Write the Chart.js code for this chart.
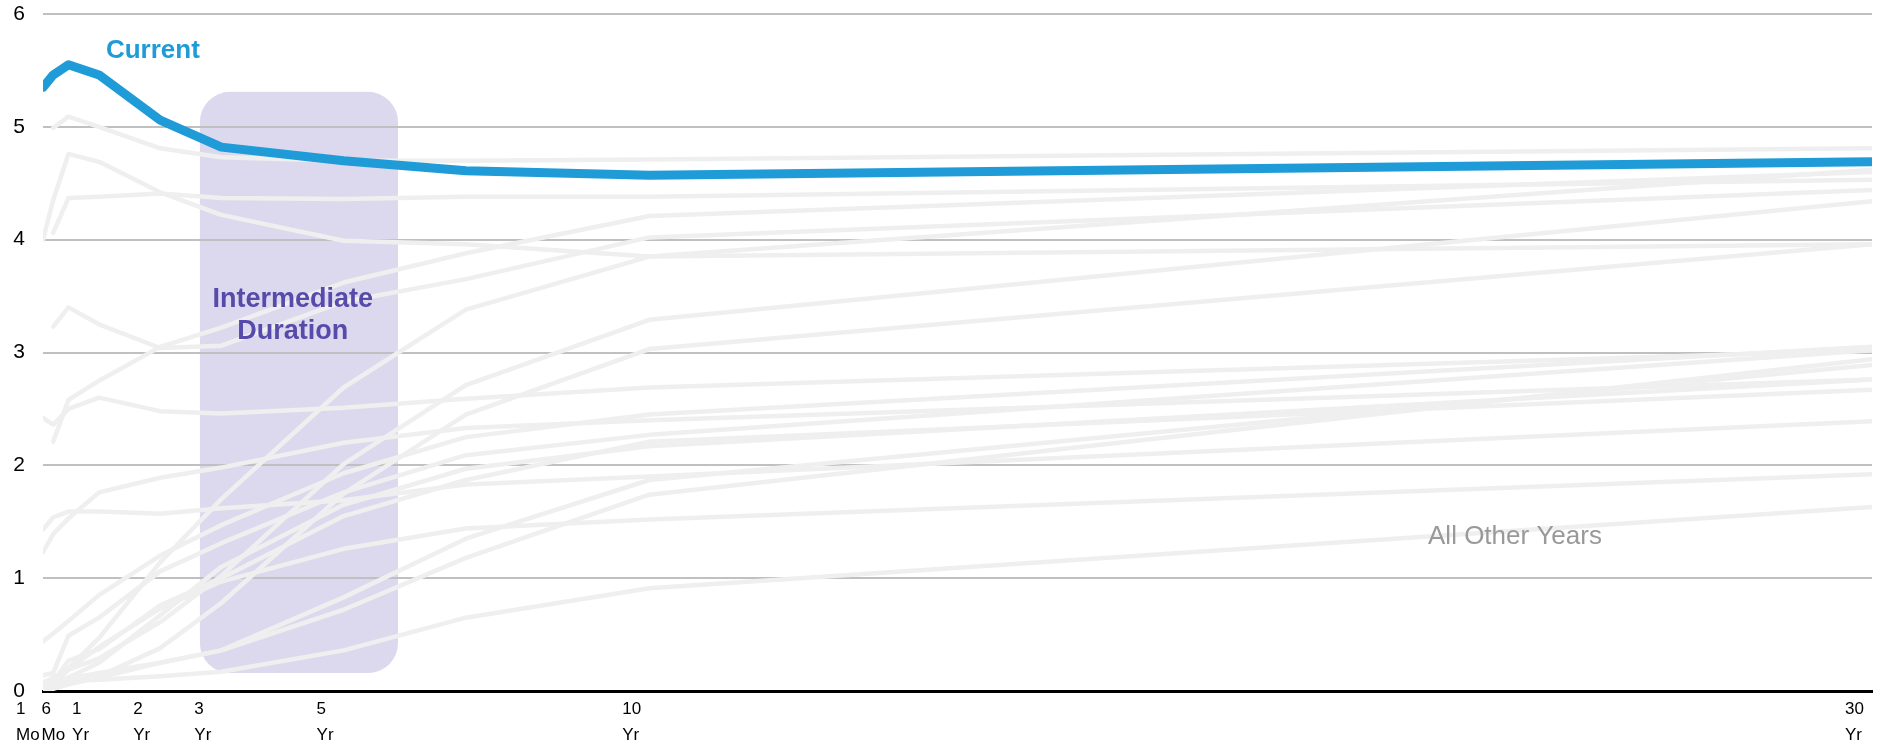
<!DOCTYPE html>
<html>
<head>
<meta charset="utf-8">
<script src="https://cdn.jsdelivr.net/npm/chart.js@4.4.1/dist/chart.umd.min.js"></script>
<style>
  html, body { margin: 0; padding: 0; background: #fff; }
  #wrap { width: 1877px; height: 745px; position: relative; }
</style>
</head>
<body>
<div id="wrap"><canvas id="curves"></canvas></div>
<script>
// Maturities in years: 1 Mo, 3 Mo, 6 Mo, 1, 2, 3, 5, 7, 10, 30 Yr
const maturities = [1/12, 0.25, 0.5, 1, 2, 3, 5, 7, 10, 30];

// Axis ticks
const tickValues = [1/12, 0.5, 1, 2, 3, 5, 10, 30];
const tickLabels = [['1', 'Mo'], ['6', 'Mo'], ['1', 'Yr'], ['2', 'Yr'], ['3', 'Yr'], ['5', 'Yr'], ['10', 'Yr'], ['30', 'Yr']];
const yTicks = [0, 1, 2, 3, 4, 5, 6];

// Current curve (%)
const current = [5.35, 5.46, 5.55, 5.46, 5.06, 4.82, 4.70, 4.61, 4.57, 4.69];

// Year-end curves (%); null where no 1 Mo point is shown
const curve2004 = [null, 2.21, 2.58, 2.75, 3.05, 3.22, 3.62, 3.88, 4.21, 4.60];
const curve2005 = [null, 4.06, 4.37, 4.38, 4.41, 4.37, 4.36, 4.38, 4.38, 4.53];
const curve2006 = [null, 4.99, 5.09, 5.00, 4.81, 4.73, 4.70, 4.70, 4.71, 4.81];
const curve2007 = [null, 3.23, 3.40, 3.25, 3.04, 3.06, 3.45, 3.65, 4.02, 4.44];
const curve2008 = [0.05, 0.08, 0.27, 0.37, 0.76, 1.00, 1.55, 1.87, 2.21, 2.67];
const curve2009 = [0.02, 0.06, 0.20, 0.47, 1.14, 1.70, 2.69, 3.38, 3.85, 4.62];
const curve2010 = [0.07, 0.12, 0.19, 0.29, 0.61, 1.02, 2.01, 2.71, 3.29, 4.34];
const curve2011 = [0.02, 0.02, 0.06, 0.12, 0.25, 0.36, 0.83, 1.35, 1.87, 2.89];
const curve2012 = [0.02, 0.05, 0.11, 0.16, 0.25, 0.36, 0.72, 1.18, 1.74, 2.94];
const curve2013 = [0.01, 0.07, 0.10, 0.13, 0.38, 0.78, 1.75, 2.45, 3.03, 3.96];
const curve2014 = [0.03, 0.04, 0.12, 0.25, 0.67, 1.10, 1.65, 1.97, 2.17, 2.76];
const curve2015 = [0.14, 0.16, 0.49, 0.65, 1.06, 1.31, 1.76, 2.09, 2.27, 3.02];
const curve2016 = [0.44, 0.51, 0.62, 0.85, 1.20, 1.47, 1.93, 2.25, 2.45, 3.05];
const curve2017 = [1.23, 1.39, 1.53, 1.76, 1.89, 1.98, 2.20, 2.33, 2.40, 2.76];
const curve2018 = [2.42, 2.36, 2.50, 2.60, 2.48, 2.46, 2.51, 2.59, 2.69, 3.02];
const curve2019 = [1.43, 1.54, 1.59, 1.59, 1.57, 1.62, 1.69, 1.83, 1.90, 2.39];
const curve2020 = [0.08, 0.09, 0.09, 0.10, 0.13, 0.17, 0.36, 0.65, 0.91, 1.63];
const curve2021 = [0.05, 0.05, 0.19, 0.39, 0.73, 0.97, 1.26, 1.44, 1.52, 1.92];
const curve2022 = [4.00, 4.35, 4.76, 4.69, 4.42, 4.22, 3.99, 3.96, 3.85, 3.96];

const otherCurves = [curve2004, curve2005, curve2006, curve2007, curve2008, curve2009,
  curve2010, curve2011, curve2012, curve2013, curve2014, curve2015, curve2016,
  curve2017, curve2018, curve2019, curve2020, curve2021, curve2022];

// Highlighted intermediate-duration maturity range (years) and its vertical extent (%)
const intermediateBand = { from: 2.65, to: 5.89, bottom: 0.16, top: 5.31 };

const toPoints = vals => maturities.map((m, i) => ({ x: m, y: vals[i] }));

const datasets = [{
  label: 'Current',
  data: toPoints(current),
  borderColor: '#1f9bd7',
  borderWidth: 9,
  borderJoinStyle: 'round',
  borderCapStyle: 'round',
  pointRadius: 0,
  tension: 0
}].concat(otherCurves.map(c => ({
  label: 'Other',
  data: toPoints(c),
  borderColor: '#efefef',
  borderWidth: 4.5,
  borderJoinStyle: 'round',
  borderCapStyle: 'round',
  pointRadius: 0,
  tension: 0
})));

const decorations = {
  id: 'decorations',
  beforeDraw(chart) {
    const { ctx, scales: { x, y } } = chart;
    ctx.save();
    ctx.fillStyle = '#ffffff';
    ctx.fillRect(0, 0, chart.width, chart.height);
    const l = x.getPixelForValue(intermediateBand.from);
    const r = x.getPixelForValue(intermediateBand.to);
    const t = y.getPixelForValue(intermediateBand.top);
    const b = y.getPixelForValue(intermediateBand.bottom);
    ctx.fillStyle = '#dcd9ee';
    ctx.beginPath();
    ctx.roundRect(l, t, r - l, b - t, 30);
    ctx.fill();
    ctx.restore();
  },
  afterDatasetsDraw(chart) {
    const { ctx, scales: { x, y } } = chart;
    ctx.save();
    ctx.textAlign = 'center';
    ctx.textBaseline = 'middle';

    ctx.font = 'bold 26px "Liberation Sans", Arial, sans-serif';
    ctx.fillStyle = '#1f9bd7';
    ctx.fillText('Current', x.getPixelForValue(1.88), y.getPixelForValue(5.67));

    ctx.font = 'bold 27px "Liberation Sans", Arial, sans-serif';
    ctx.fillStyle = '#564aaa';
    const ix = x.getPixelForValue(4.17);
    ctx.fillText('Intermediate', ix, y.getPixelForValue(3.47));
    ctx.fillText('Duration', ix, y.getPixelForValue(3.19));

    ctx.font = '26px "Liberation Sans", Arial, sans-serif';
    ctx.fillStyle = '#999999';
    ctx.fillText('All Other Years', x.getPixelForValue(24.16), y.getPixelForValue(1.37));
    ctx.restore();
  }
};

new Chart(document.getElementById('curves'), {
  type: 'line',
  data: { datasets },
  plugins: [decorations],
  options: {
    responsive: true,
    maintainAspectRatio: false,
    devicePixelRatio: 1,
    animation: false,
    layout: { padding: { left: 0, right: 5, top: 14, bottom: 0 } },
    plugins: { legend: { display: false }, tooltip: { enabled: false } },
    scales: {
      x: {
        type: 'linear',
        min: 1/12,
        max: 30,
        grid: { display: false, drawTicks: false },
        border: { display: true, color: '#000000', width: 3 },
        afterBuildTicks: scale => { scale.ticks = tickValues.map(v => ({ value: v })); },
        afterFit: scale => { scale.height = 54; scale.paddingLeft = 0; scale.paddingRight = 0; },
        ticks: {
          autoSkip: false,
          maxRotation: 0,
          minRotation: 0,
          align: 'start',
          labelOffset: -27,
          padding: 6,
          color: '#000000',
          font: { family: '"Liberation Sans", Arial, sans-serif', size: 17, lineHeight: 1.5 },
          callback: (v, i) => tickLabels[i]
        }
      },
      y: {
        min: 0,
        max: 6,
        afterBuildTicks: scale => { scale.ticks = yTicks.map(v => ({ value: v })); },
        afterFit: scale => { scale.width = 43; scale.paddingTop = 0; scale.paddingBottom = 0; },
        grid: { color: '#c0c0c0', lineWidth: 2, drawTicks: false },
        border: { display: false },
        ticks: {
          padding: 18,
          color: '#000000',
          font: { family: '"Liberation Sans", Arial, sans-serif', size: 21 }
        }
      }
    }
  }
});
</script>
</body>
</html>
